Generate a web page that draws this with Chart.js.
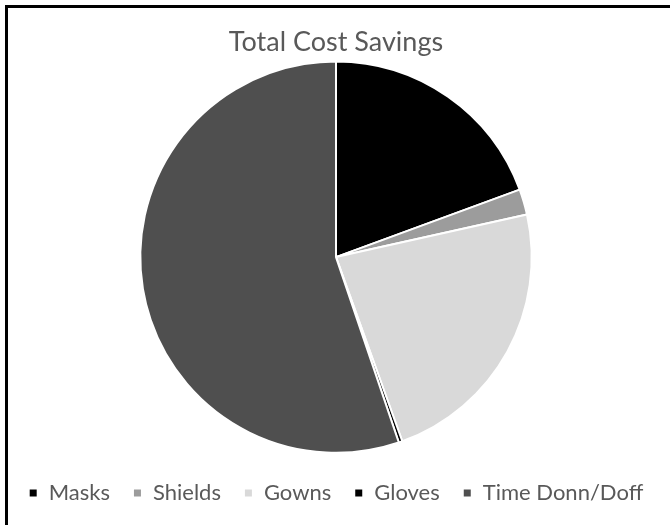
<!DOCTYPE html>
<html>
<head>
<meta charset="utf-8">
<script src="https://cdn.jsdelivr.net/npm/chart.js@4/dist/chart.umd.min.js"></script>
<style>
  html, body { margin: 0; padding: 0; background: #ffffff; }
  #wrap { position: relative; width: 670px; height: 525px; overflow: hidden; }
  #frame { position: absolute; left: 5px; top: 5px; width: 700px; height: 600px;
           border-left: 3px solid #000; border-top: 3px solid #000; pointer-events: none; }
  canvas { position: absolute; left: 0; top: 0; }
</style>
</head>
<body>
<div id="wrap">
  <canvas id="c" width="670" height="525"></canvas>
  <div id="frame"></div>
</div>
<script>
const categories = ["Masks", "Shields", "Gowns", "Gloves", "Time Donn/Doff"];
const savingsShare = [19.4, 2.1, 23.0, 0.3, 55.2];
const sliceColors = ["#000000", "#9c9c9c", "#d9d9d9", "#000000", "#4f4f4f"];
const chartTitle = "Total Cost Savings";

new Chart(document.getElementById("c"), {
  type: "pie",
  data: {
    labels: categories,
    datasets: [{
      data: savingsShare,
      backgroundColor: sliceColors,
      borderColor: "#ffffff",
      borderWidth: 2,
      hoverOffset: 0
    }]
  },
  options: {
    responsive: false,
    animation: false,
    devicePixelRatio: 1,
    layout: { padding: { top: 0, bottom: 11, left: 2, right: 0 } },
    plugins: {
      title: {
        display: true,
        text: chartTitle,
        color: "#595959",
        font: { family: "Lato", size: 27, weight: "normal" },
        padding: { top: 26, bottom: 2 }
      },
      legend: {
        position: "bottom",
        title: {
          display: true,
          text: " ",
          font: { size: 1 },
          padding: 2
        },
        labels: {
          color: "#595959",
          font: { family: "Lato", size: 22 },
          boxWidth: 9,
          boxHeight: 9,
          padding: 23
        }
      },
      tooltip: { enabled: false }
    }
  }
});
</script>
</body>
</html>
